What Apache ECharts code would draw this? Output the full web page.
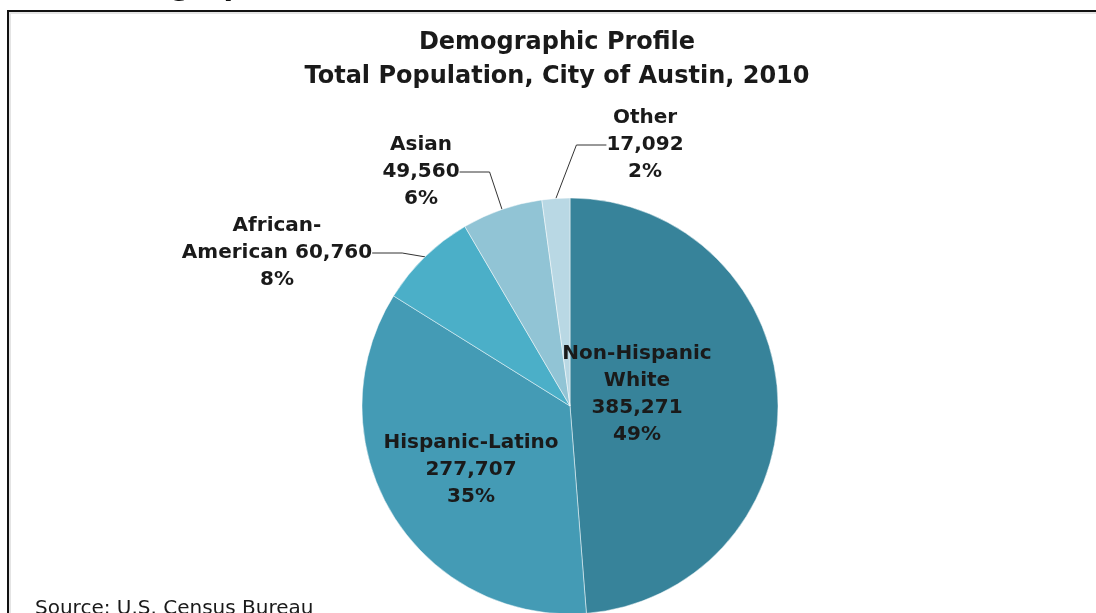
<!DOCTYPE html>
<html>
<head>
<meta charset="utf-8">
<script src="https://cdn.jsdelivr.net/npm/echarts@6/dist/echarts.min.js"></script>
<style>
  html, body { margin: 0; padding: 0; background: #fff; }
  #chart { width: 1096px; height: 613px; }
</style>
</head>
<body>
<div id="chart"></div>
<script>
const groups = ['Non-Hispanic White', 'Hispanic-Latino', 'African-American', 'Asian', 'Other'];
const population = [385271, 277707, 60760, 49560, 17092];
// how each label's name is broken over lines
const labelHeads = ['Non-Hispanic\nWhite\n', 'Hispanic-Latino\n', 'African-\nAmerican ', 'Asian\n', 'Other\n'];
const sliceColors = ['#37839a', '#449bb5', '#4bafc8', '#91c4d5', '#b9d8e4'];

const labelSpots = [
  { x: 637, y: 394 },
  { x: 471, y: 470 },
  { x: 277, y: 253 },
  { x: 421, y: 172 },
  { x: 645, y: 145 },
];

const font = '"DejaVu Sans", sans-serif';
const chart = echarts.init(document.getElementById('chart'));

const option = {
  backgroundColor: '#fff',
  animation: false,
  title: {
    text: 'Demographic Profile\nTotal Population, City of Austin, 2010',
    left: 552,
    top: 21,
    textAlign: 'center',
    textStyle: {
      fontFamily: font,
      fontWeight: 'bold',
      fontSize: 24,
      lineHeight: 34,
      color: '#1a1a1a',
    },
  },
  graphic: [
    {
      type: 'rect',
      shape: { x: 8, y: 11, width: 1200, height: 700 },
      style: { fill: 'none', stroke: '#111', lineWidth: 2 },
      z: 1,
    },
    {
      type: 'rect',
      shape: { x: 10, y: 13, width: 1200, height: 700 },
      style: { fill: 'none', stroke: '#e4e4e4', lineWidth: 2 },
      z: 1,
    },
    {
      type: 'text',
      left: 80,
      top: -26,
      style: {
        text: 'Demographics',
        fontFamily: font,
        fontWeight: 'bold',
        fontSize: 28,
        fill: '#111',
      },
    },
    {
      type: 'text',
      left: 35,
      top: 599,
      style: {
        text: 'Source: U.S. Census Bureau',
        fontFamily: font,
        fontSize: 20,
        fill: '#1a1a1a',
      },
    },
  ],
  series: [
    {
      type: 'pie',
      center: [570, 406],
      radius: 208,
      startAngle: 90,
      clockwise: true,
      avoidLabelOverlap: false,
      itemStyle: {
        borderColor: 'rgba(255,255,255,0.6)',
        borderWidth: 0.8,
      },
      label: {
        fontFamily: font,
        fontSize: 20,
        fontWeight: 'bold',
        lineHeight: 27,
        color: '#1a1a1a',
        align: 'center',
        formatter: (p) =>
          labelHeads[p.dataIndex] + p.value.toLocaleString('en-US') + '\n' + Math.round(p.percent) + '%',
      },
      labelLine: {
        show: true,
        lineStyle: { color: '#333', width: 1 },
      },
      labelLayout: (params) => {
        const spot = labelSpots[params.dataIndex];
        return { x: spot.x, y: spot.y, align: 'center', verticalAlign: 'middle' };
      },
      data: groups.map((name, i) => ({
        name,
        value: population[i],
        itemStyle: { color: sliceColors[i] },
        label: { position: i < 2 ? 'inside' : 'outside' },
        labelLine: { show: i >= 2 },
      })),
    },
  ],
};

chart.setOption(option);
</script>
</body>
</html>
